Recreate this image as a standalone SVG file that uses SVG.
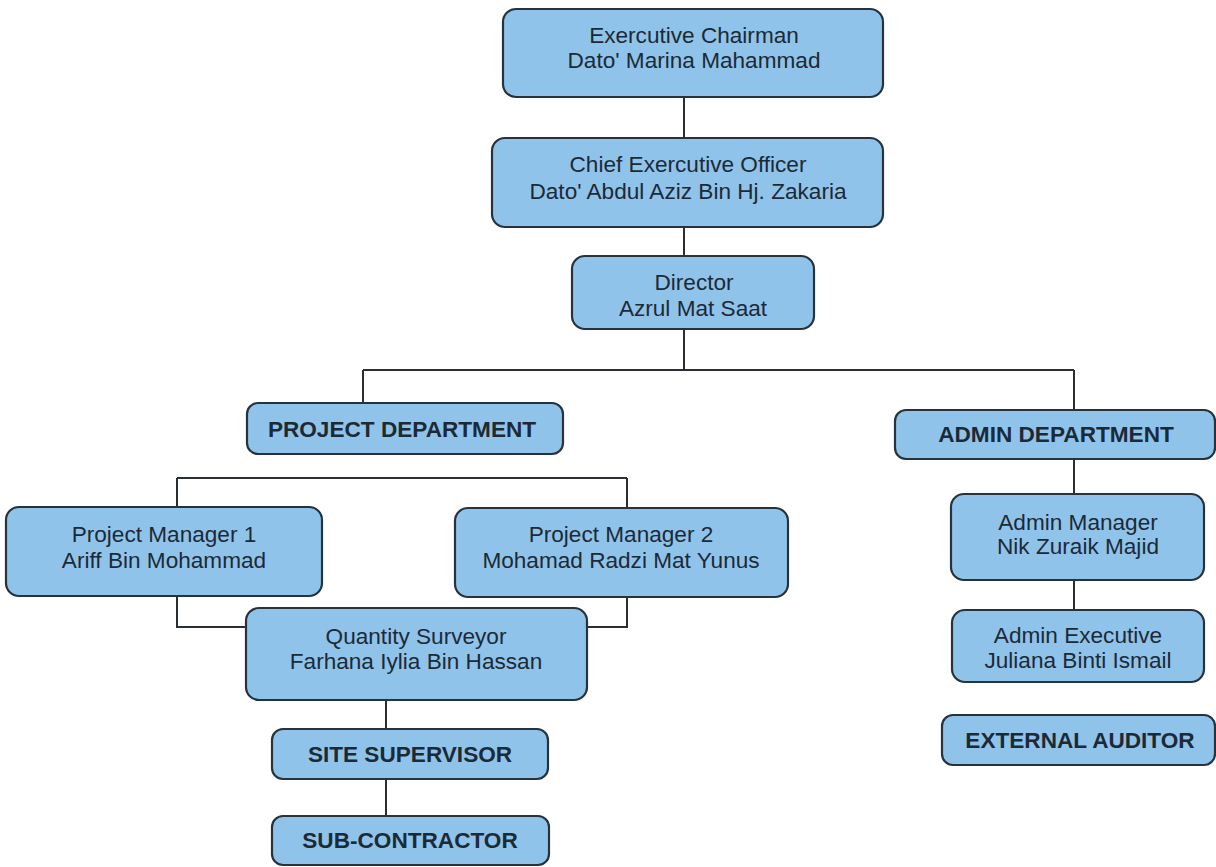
<svg xmlns="http://www.w3.org/2000/svg" width="1216" height="867" viewBox="0 0 1216 867">
<style>
.box{fill:#90c3ea;stroke:#26333d;stroke-width:2.2}
.t{font-family:"Liberation Sans",Arial,sans-serif;font-size:22.6px;fill:#1c2a36;text-anchor:middle}
.b{font-weight:bold}
.c{fill:none;stroke:#2a2f33;stroke-width:2}
</style>
<rect width="1216" height="867" fill="#ffffff"/>
<g id="connectors">
<path class="c" d="M684 97V138M684 227V256M684 329V370M363 370H1074M363 370V403M1074 370V410M1074 459V494M1074 580V610"/>
<path class="c" d="M177 478H627M177 478V507M627 478V508M177 596V627H247M627 597V627H587M386 700V729M386 779V816"/>
</g>
<g id="exec-chairman">
<rect class="box" x="503" y="9" width="380" height="88" rx="13"/>
<text class="t" x="694" y="43">Exercutive Chairman</text>
<text class="t" x="694" y="68">Dato' Marina Mahammad</text>
</g>
<g id="ceo">
<rect class="box" x="492" y="138" width="391" height="89" rx="13"/>
<text class="t" x="688" y="172">Chief Exercutive Officer</text>
<text class="t" x="688" y="199">Dato' Abdul Aziz Bin Hj. Zakaria</text>
</g>
<g id="director">
<rect class="box" x="572" y="256" width="242" height="73" rx="13"/>
<text class="t" x="694" y="290">Director</text>
<text class="t" x="693" y="316">Azrul Mat Saat</text>
</g>
<g id="project-department">
<rect class="box" x="247" y="403" width="316" height="51" rx="11"/>
<text class="t b" x="402" y="437">PROJECT DEPARTMENT</text>
</g>
<g id="pm1">
<rect class="box" x="6" y="507" width="316" height="89" rx="13"/>
<text class="t" x="164" y="542">Project Manager 1</text>
<text class="t" x="164" y="568">Ariff Bin Mohammad</text>
</g>
<g id="pm2">
<rect class="box" x="455" y="508" width="333" height="89" rx="13"/>
<text class="t" x="621" y="542">Project Manager 2</text>
<text class="t" x="621" y="568">Mohamad Radzi Mat Yunus</text>
</g>
<g id="quantity-surveyor">
<rect class="box" x="246" y="608" width="341" height="92" rx="13"/>
<text class="t" x="416" y="644">Quantity Surveyor</text>
<text class="t" x="416" y="669">Farhana Iylia Bin Hassan</text>
</g>
<g id="site-supervisor">
<rect class="box" x="272" y="729" width="276" height="50" rx="11"/>
<text class="t b" x="410" y="762">SITE SUPERVISOR</text>
</g>
<g id="sub-contractor">
<rect class="box" x="272" y="816" width="277" height="49" rx="11"/>
<text class="t b" x="410" y="848">SUB-CONTRACTOR</text>
</g>
<g id="admin-department">
<rect class="box" x="895" y="410" width="320" height="49" rx="11"/>
<text class="t b" x="1056" y="442">ADMIN DEPARTMENT</text>
</g>
<g id="admin-manager">
<rect class="box" x="951" y="494" width="253" height="86" rx="13"/>
<text class="t" x="1078" y="530">Admin Manager</text>
<text class="t" x="1078" y="554">Nik Zuraik Majid</text>
</g>
<g id="admin-executive">
<rect class="box" x="952" y="610" width="252" height="72" rx="13"/>
<text class="t" x="1078" y="643">Admin Executive</text>
<text class="t" x="1078" y="668">Juliana Binti Ismail</text>
</g>
<g id="external-auditor">
<rect class="box" x="942" y="715" width="273" height="50" rx="11"/>
<text class="t b" x="1080" y="748">EXTERNAL AUDITOR</text>
</g>
</svg>
